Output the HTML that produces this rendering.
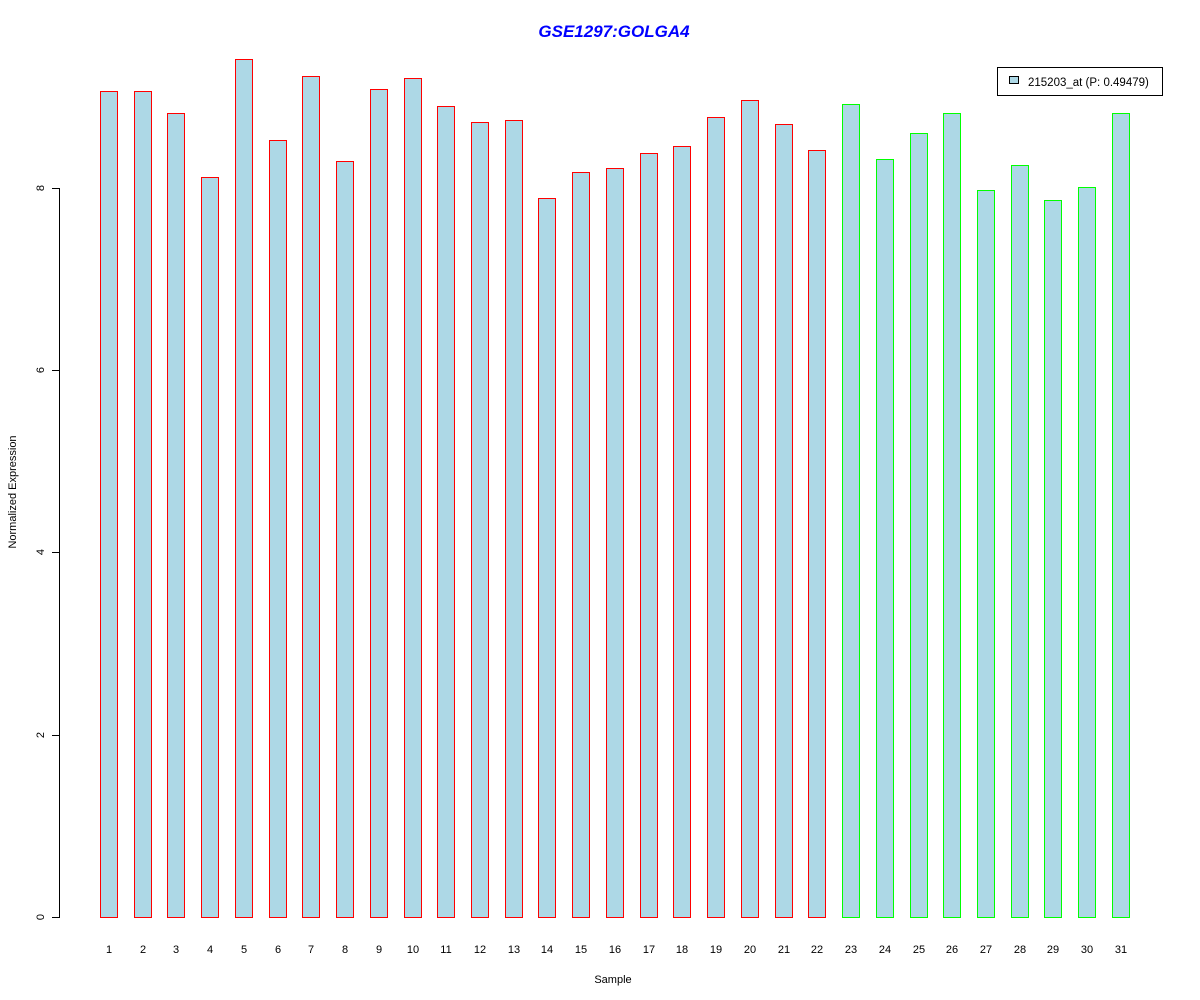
<!DOCTYPE html>
<html><head><meta charset="utf-8"><style>
html,body{margin:0;padding:0;background:#fff;}
svg{display:block;font-family:"Liberation Sans",Arial,sans-serif;}
</style></head><body>
<svg width="1200" height="1000" viewBox="0 0 1200 1000" xmlns="http://www.w3.org/2000/svg">
<rect width="1200" height="1000" fill="#fff"/>
<text x="614" y="37" text-anchor="middle" font-size="17" font-weight="bold" font-style="italic" fill="#0000ff">GSE1297:GOLGA4</text>
<g fill="#add8e6" stroke="#ff0000" stroke-width="1" shape-rendering="crispEdges">
<rect x="100.5" y="91.5" width="17" height="826"/>
<rect x="134.5" y="91.5" width="17" height="826"/>
<rect x="167.5" y="113.5" width="17" height="804"/>
<rect x="201.5" y="177.5" width="17" height="740"/>
<rect x="235.5" y="59.5" width="17" height="858"/>
<rect x="269.5" y="140.5" width="17" height="777"/>
<rect x="302.5" y="76.5" width="17" height="841"/>
<rect x="336.5" y="161.5" width="17" height="756"/>
<rect x="370.5" y="89.5" width="17" height="828"/>
<rect x="404.5" y="78.5" width="17" height="839"/>
<rect x="437.5" y="106.5" width="17" height="811"/>
<rect x="471.5" y="122.5" width="17" height="795"/>
<rect x="505.5" y="120.5" width="17" height="797"/>
<rect x="538.5" y="198.5" width="17" height="719"/>
<rect x="572.5" y="172.5" width="17" height="745"/>
<rect x="606.5" y="168.5" width="17" height="749"/>
<rect x="640.5" y="153.5" width="17" height="764"/>
<rect x="673.5" y="146.5" width="17" height="771"/>
<rect x="707.5" y="117.5" width="17" height="800"/>
<rect x="741.5" y="100.5" width="17" height="817"/>
<rect x="775.5" y="124.5" width="17" height="793"/>
<rect x="808.5" y="150.5" width="17" height="767"/>
</g>
<g fill="#add8e6" stroke="#00ff00" stroke-width="1" shape-rendering="crispEdges">
<rect x="842.5" y="104.5" width="17" height="813"/>
<rect x="876.5" y="159.5" width="17" height="758"/>
<rect x="910.5" y="133.5" width="17" height="784"/>
<rect x="943.5" y="113.5" width="17" height="804"/>
<rect x="977.5" y="190.5" width="17" height="727"/>
<rect x="1011.5" y="165.5" width="17" height="752"/>
<rect x="1044.5" y="200.5" width="17" height="717"/>
<rect x="1078.5" y="187.5" width="17" height="730"/>
<rect x="1112.5" y="113.5" width="17" height="804"/>
</g>
<g stroke="#000" stroke-width="1" fill="none" shape-rendering="crispEdges">
<line x1="59.5" y1="188" x2="59.5" y2="918"/>
<line x1="52" y1="917.5" x2="60" y2="917.5"/>
<line x1="52" y1="735.5" x2="60" y2="735.5"/>
<line x1="52" y1="552.5" x2="60" y2="552.5"/>
<line x1="52" y1="370.5" x2="60" y2="370.5"/>
<line x1="52" y1="188.5" x2="60" y2="188.5"/>
</g>
<g font-size="11" fill="#000" text-anchor="middle">
<text transform="translate(44,917) rotate(-90)">0</text>
<text transform="translate(44,735) rotate(-90)">2</text>
<text transform="translate(44,552) rotate(-90)">4</text>
<text transform="translate(44,370) rotate(-90)">6</text>
<text transform="translate(44,188) rotate(-90)">8</text>
<text transform="translate(16,492) rotate(-90)">Normalized Expression</text>
<text x="613" y="983">Sample</text>
<text x="109" y="953">1</text><text x="143" y="953">2</text><text x="176" y="953">3</text>
<text x="210" y="953">4</text><text x="244" y="953">5</text><text x="278" y="953">6</text>
<text x="311" y="953">7</text><text x="345" y="953">8</text><text x="379" y="953">9</text>
<text x="413" y="953">10</text><text x="446" y="953">11</text><text x="480" y="953">12</text>
<text x="514" y="953">13</text><text x="547" y="953">14</text><text x="581" y="953">15</text>
<text x="615" y="953">16</text><text x="649" y="953">17</text><text x="682" y="953">18</text>
<text x="716" y="953">19</text><text x="750" y="953">20</text><text x="784" y="953">21</text>
<text x="817" y="953">22</text><text x="851" y="953">23</text><text x="885" y="953">24</text>
<text x="919" y="953">25</text><text x="952" y="953">26</text><text x="986" y="953">27</text>
<text x="1020" y="953">28</text><text x="1053" y="953">29</text><text x="1087" y="953">30</text>
<text x="1121" y="953">31</text>
</g>
<rect x="997.5" y="67.5" width="165" height="28" fill="#fff" stroke="#000" shape-rendering="crispEdges"/>
<rect x="1009.5" y="76.5" width="9" height="7" fill="#add8e6" stroke="#000" shape-rendering="crispEdges"/>
<text x="1028" y="86" font-size="11.5" fill="#000">215203_at (P: 0.49479)</text>
</svg>
</body></html>
